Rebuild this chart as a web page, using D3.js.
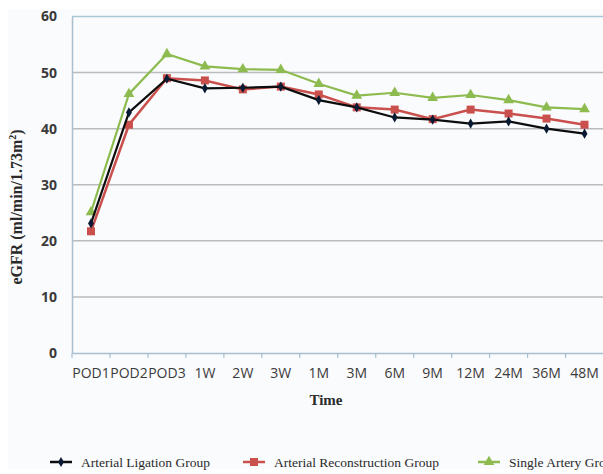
<!DOCTYPE html>
<html><head><meta charset="utf-8">
<script src="https://cdn.jsdelivr.net/npm/d3@7"></script>
<style>body{margin:0;background:#fff;}svg{display:block;}</style>
</head><body>
<script>
const categories = ["POD1","POD2","POD3","1W","2W","3W","1M","3M","6M","9M","12M","24M","36M","48M"];
const ligation = [23.1,42.9,48.9,47.2,47.3,47.5,45.1,43.8,42.0,41.6,40.9,41.3,40.0,39.1];
const reconstruction = [21.7,40.7,49.0,48.6,47.0,47.5,46.1,43.8,43.4,41.7,43.4,42.7,41.8,40.7];
const singleArtery = [25.1,46.2,53.3,51.1,50.6,50.5,48.0,45.9,46.4,45.5,46.0,45.1,43.8,43.5];
const yTicks = [0,10,20,30,40,50,60];
const seriesNames = ["Arterial Ligation Group","Arterial Reconstruction Group","Single Artery Group"];

const W = 603, H = 474;
const svg = d3.select("body").append("svg").attr("width", W).attr("height", H);
svg.append("rect").attr("x",8).attr("y",9).attr("width",W-8).attr("height",460).attr("fill","#fafbfd");

const x = d3.scaleBand().domain(categories).range([72, 603.5]);
const y = d3.scaleLinear().domain([0,60]).range([353, 16.5]);

// gridlines
svg.append("g").selectAll("line").data(yTicks.filter(d=>d>0)).join("line")
  .attr("x1",72).attr("x2",W).attr("y1",d=>y(d)).attr("y2",d=>y(d))
  .attr("stroke",d=>d===60?"#a9c6d6":"#b9bcbf").attr("stroke-width",1.5);

// y axis
const yAxis = svg.append("g").attr("transform","translate(72,0)")
  .call(d3.axisLeft(y).tickValues(yTicks).tickSize(0).tickPadding(15));
yAxis.select(".domain").attr("stroke","#a9bfcf").attr("stroke-width",1.5);
yAxis.selectAll("text").attr("font-family","'Open Sans', sans-serif").attr("font-weight","bold")
  .attr("font-size","14px").attr("fill","#3a3a3a");

// x axis
const xAxis = svg.append("g").attr("transform","translate(0,353)")
  .call(d3.axisBottom(x).tickSize(0).tickPadding(15));
xAxis.select(".domain").attr("stroke","#a9bfcf").attr("stroke-width",1.5);
xAxis.selectAll("text").attr("font-family","'Open Sans', sans-serif")
  .attr("font-size","14px").attr("fill","#3a3a3a");
// tick marks at band boundaries
svg.append("g").selectAll("line").data(categories).join("line")
  .attr("x1",d=>x(d)).attr("x2",d=>x(d)).attr("y1",353).attr("y2",358)
  .attr("stroke","#a9bfcf").attr("stroke-width",1.2);

// titles
const yt = svg.append("text").attr("transform","translate(22,207) rotate(-90)").attr("text-anchor","middle")
  .attr("font-family","'Liberation Serif', serif").attr("font-weight","bold").attr("font-size","16px")
  .attr("fill","#2a2a2a");
yt.append("tspan").text("eGFR (ml/min/1.73m");
yt.append("tspan").attr("dy","-6").attr("font-size","10px").text("2");
yt.append("tspan").attr("dy","6").text(")");
svg.append("text").attr("x",326).attr("y",405).attr("text-anchor","middle")
  .attr("font-family","'Liberation Serif', serif").attr("font-weight","bold").attr("font-size","15px")
  .attr("fill","#2a2a2a").text("Time");

const series = [
  {name:seriesNames[0], values:ligation, color:"#0d0d0d", marker:"diamond"},
  {name:seriesNames[1], values:reconstruction, color:"#c9504d", marker:"square"},
  {name:seriesNames[2], values:singleArtery, color:"#8dbb4f", marker:"triangle"}
];
const cx = d => x(d) + x.bandwidth()/2;
const line = d3.line().x((d,i)=>cx(categories[i])).y(d=>y(d));
const sym = {diamond:[d3.symbolDiamond,30], square:[d3.symbolSquare,64], triangle:[d3.symbolTriangle,50]};

// draw order: green, red, black on top
[series[2], series[1], series[0]].forEach(s=>{
  svg.append("path").datum(s.values).attr("d",line).attr("fill","none")
    .attr("stroke",s.color).attr("stroke-width", s.marker==="square"?2.5:2.2);
  svg.append("g").selectAll("path").data(s.values).join("path")
    .attr("transform",(d,i)=>`translate(${cx(categories[i])},${y(d)})`)
    .attr("d",d3.symbol().type(sym[s.marker][0]).size(sym[s.marker][1]))
    .attr("fill", s.marker==="diamond"?"#0a1a33":s.color);
});

// legend
const legX = [50, 243, 478];
series.forEach((s,i)=>{
  const g = svg.append("g").attr("transform",`translate(${legX[i]},462)`);
  g.append("line").attr("x1",0).attr("x2",22).attr("y1",0).attr("y2",0).attr("stroke",s.color).attr("stroke-width",2.5);
  g.append("path").attr("transform","translate(11,0)").attr("d",d3.symbol().type(sym[s.marker][0]).size(sym[s.marker][1]))
    .attr("fill", s.marker==="diamond"?"#0a1a33":s.color);
  g.append("text").attr("x",31).attr("y",4.5).attr("font-family","'Liberation Serif', serif")
    .attr("font-size","13.5px").attr("fill","#2a2a2a").text(s.name);
});
</script>
</body></html>
